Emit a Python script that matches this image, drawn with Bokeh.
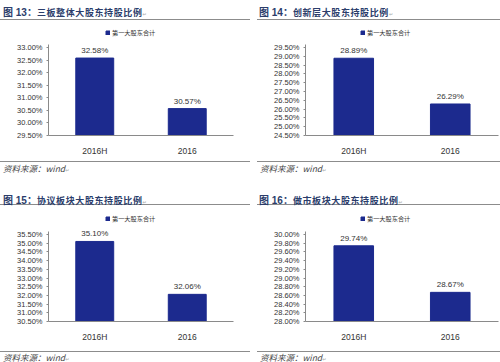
from bokeh.plotting import figure
from bokeh.models import (FactorRange, Range1d, SingleIntervalTicker, PrintfTickFormatter,
                          Legend, LegendItem, Div, ColumnDataSource)
from bokeh.layouts import row, column
from bokeh.core.properties import value
from bokeh.embed import file_html
from bokeh.resources import INLINE

# ---------------- data ----------------
categories = ["2016H", "2016"]
legend_label = "第一大股东合计"
source_text = "资料来源：wind"

fig_numbers = ["13", "14", "15", "16"]
fig_titles = ["三板整体大股东持股比例", "创新层大股东持股比例",
              "协议板块大股东持股比例", "做市板块大股东持股比例"]

values_13 = [32.58, 30.57]
values_14 = [28.89, 26.29]
values_15 = [35.10, 32.06]
values_16 = [29.74, 28.67]

y_min = [29.5, 24.5, 30.5, 28.0]
y_max = [33.0, 29.5, 35.5, 30.0]
y_step = [0.5, 0.5, 0.5, 0.2]

all_values = [values_13, values_14, values_15, values_16]

BAR = "#1c2a8e"
TITLE_C = "#2b3d6b"
RULE_C = "#8c8c8c"
TXT = "#333333"

PW = 250


def title_div(num, text, height, rule_left, text_left, text_top):
    html = (
        f'<div style="position:relative;width:{PW - rule_left}px;height:{height - 1}px;'
        f'margin-left:{rule_left}px;border-bottom:1px solid {RULE_C};">'
        f'<span style="position:absolute;left:{text_left - rule_left}px;top:{text_top}px;white-space:nowrap;'
        f'color:{TITLE_C};font-weight:bold;line-height:1;">'
        f'<span style="font-family:\'Liberation Sans\',\'Noto Sans CJK SC\';font-size:10px;">图 {num}：</span>'
        f'<span style="font-family:\'Noto Sans CJK SC\';font-size:9px;letter-spacing:0.6px;">{text}</span>'
        f'<span style="font-family:\'DejaVu Sans\';font-size:5px;color:#aaaaaa;font-weight:normal;">↵</span>'
        f'</span></div>'
    )
    return Div(text=html, width=PW, height=height, margin=0)


def source_div(height, rule_left, text_left, text_top):
    html = (
        f'<div style="position:relative;width:{PW - rule_left}px;height:{height - 1}px;'
        f'margin-left:{rule_left}px;border-top:1px solid {RULE_C};">'
        f'<span style="position:absolute;left:{text_left - rule_left}px;top:{text_top}px;white-space:nowrap;'
        f'color:#444444;font-style:italic;line-height:1;font-family:\'Noto Sans CJK SC\',\'Liberation Sans\';'
        f'font-size:8.5px;">{source_text}'
        f'<span style="font-family:\'DejaVu Sans\';font-size:5px;color:#aaaaaa;font-style:normal;">↵</span>'
        f'</span></div>'
    )
    return Div(text=html, width=PW, height=height, margin=0)


def make_fig(i, height, b_left, b_right, b_top, b_bottom, tick_frame_h, legend_x, legend_top):
    vals = all_values[i]
    lo, hi = y_min[i], y_max[i]
    frame_h = height - b_top - b_bottom
    per_px = (hi - lo) / tick_frame_h
    # frame extends above the top tick to hold the legend and the value labels
    top_pad = (frame_h - tick_frame_h) * per_px
    p = figure(x_range=FactorRange(factors=categories), y_range=Range1d(lo, hi + top_pad),
               width=PW, height=height, output_backend="svg", toolbar_location=None,
               min_border_left=b_left, min_border_right=b_right,
               min_border_top=b_top, min_border_bottom=b_bottom)
    p.outline_line_color = None
    p.xgrid.visible = False
    p.ygrid.visible = False
    p.background_fill_color = "white"
    p.border_fill_color = "white"

    src = ColumnDataSource(dict(x=categories, top=vals, bottom=[lo] * len(vals),
                                label=[f"{v:.2f}%" for v in vals]))
    r = p.vbar(x="x", top="top", bottom="bottom", width=0.41, source=src,
               fill_color=BAR, line_color=BAR)
    p.text(x="x", y="top", text="label", source=src, text_align="center",
           text_baseline="bottom", y_offset=-3, text_font_size="8px",
           text_font=value("Liberation Sans"), text_color=TXT)

    ya = p.yaxis[0]
    ya.ticker = SingleIntervalTicker(interval=y_step[i], num_minor_ticks=0)
    ya.formatter = PrintfTickFormatter(format="%.2f%%")
    ya.bounds = (lo, hi + 3 * per_px)
    ya.axis_line_color = "#8a8a8a"
    ya.major_tick_line_color = "#8a8a8a"
    ya.major_tick_out = 2
    ya.major_tick_in = 0
    ya.minor_tick_line_color = None
    ya.major_label_text_font_size = "7.5px"
    ya.major_label_text_font = "Liberation Sans"
    ya.major_label_text_color = TXT
    ya.major_label_standoff = 4

    xa = p.xaxis[0]
    xa.axis_line_color = "#8a8a8a"
    xa.major_tick_line_color = None
    xa.minor_tick_line_color = None
    xa.major_label_text_font_size = "8.5px"
    xa.major_label_text_font = "Liberation Sans"
    xa.major_label_text_color = TXT
    xa.major_label_standoff = 4

    legend_h = 7
    legend = Legend(items=[LegendItem(label=legend_label, renderers=[r])],
                    location=(legend_x, frame_h - legend_top - legend_h), orientation="horizontal",
                    glyph_width=5, glyph_height=5, label_text_font_size="6.2px",
                    label_text_font="Noto Sans CJK SC", label_text_color=TXT,
                    label_standoff=2, label_height=legend_h, padding=0, margin=0, spacing=0,
                    border_line_color=None, background_fill_alpha=0)
    p.add_layout(legend)
    return p


# top row (height 185): title 21, figure 140, source 24
p1 = column(title_div(fig_numbers[0], fig_titles[0], 21, 0, 3, 6),
            make_fig(0, 140, 48, 17, 5, 26, 88, 57, 4),
            source_div(24, 0, 3, 2), spacing=0)
p2 = column(title_div(fig_numbers[1], fig_titles[1], 21, 7, 9, 6),
            make_fig(1, 140, 55, 2, 5, 26, 88, 55, 4),
            source_div(24, 7, 10, 2), spacing=0)
# bottom row (height 177): title 21, figure 144, source 12
p3 = column(title_div(fig_numbers[2], fig_titles[2], 21, 0, 3, 9),
            make_fig(2, 144, 48, 17, 5, 29, 87, 57, 5),
            source_div(12, 0, 3, 1), spacing=0)
p4 = column(title_div(fig_numbers[3], fig_titles[3], 21, 7, 9, 9),
            make_fig(3, 144, 55, 2, 5, 29, 87, 55, 5),
            source_div(12, 7, 10, 1), spacing=0)

layout = column(row(p1, p2, spacing=0), row(p3, p4, spacing=0), spacing=0)

open("out.html", "w").write(file_html(layout, INLINE))
